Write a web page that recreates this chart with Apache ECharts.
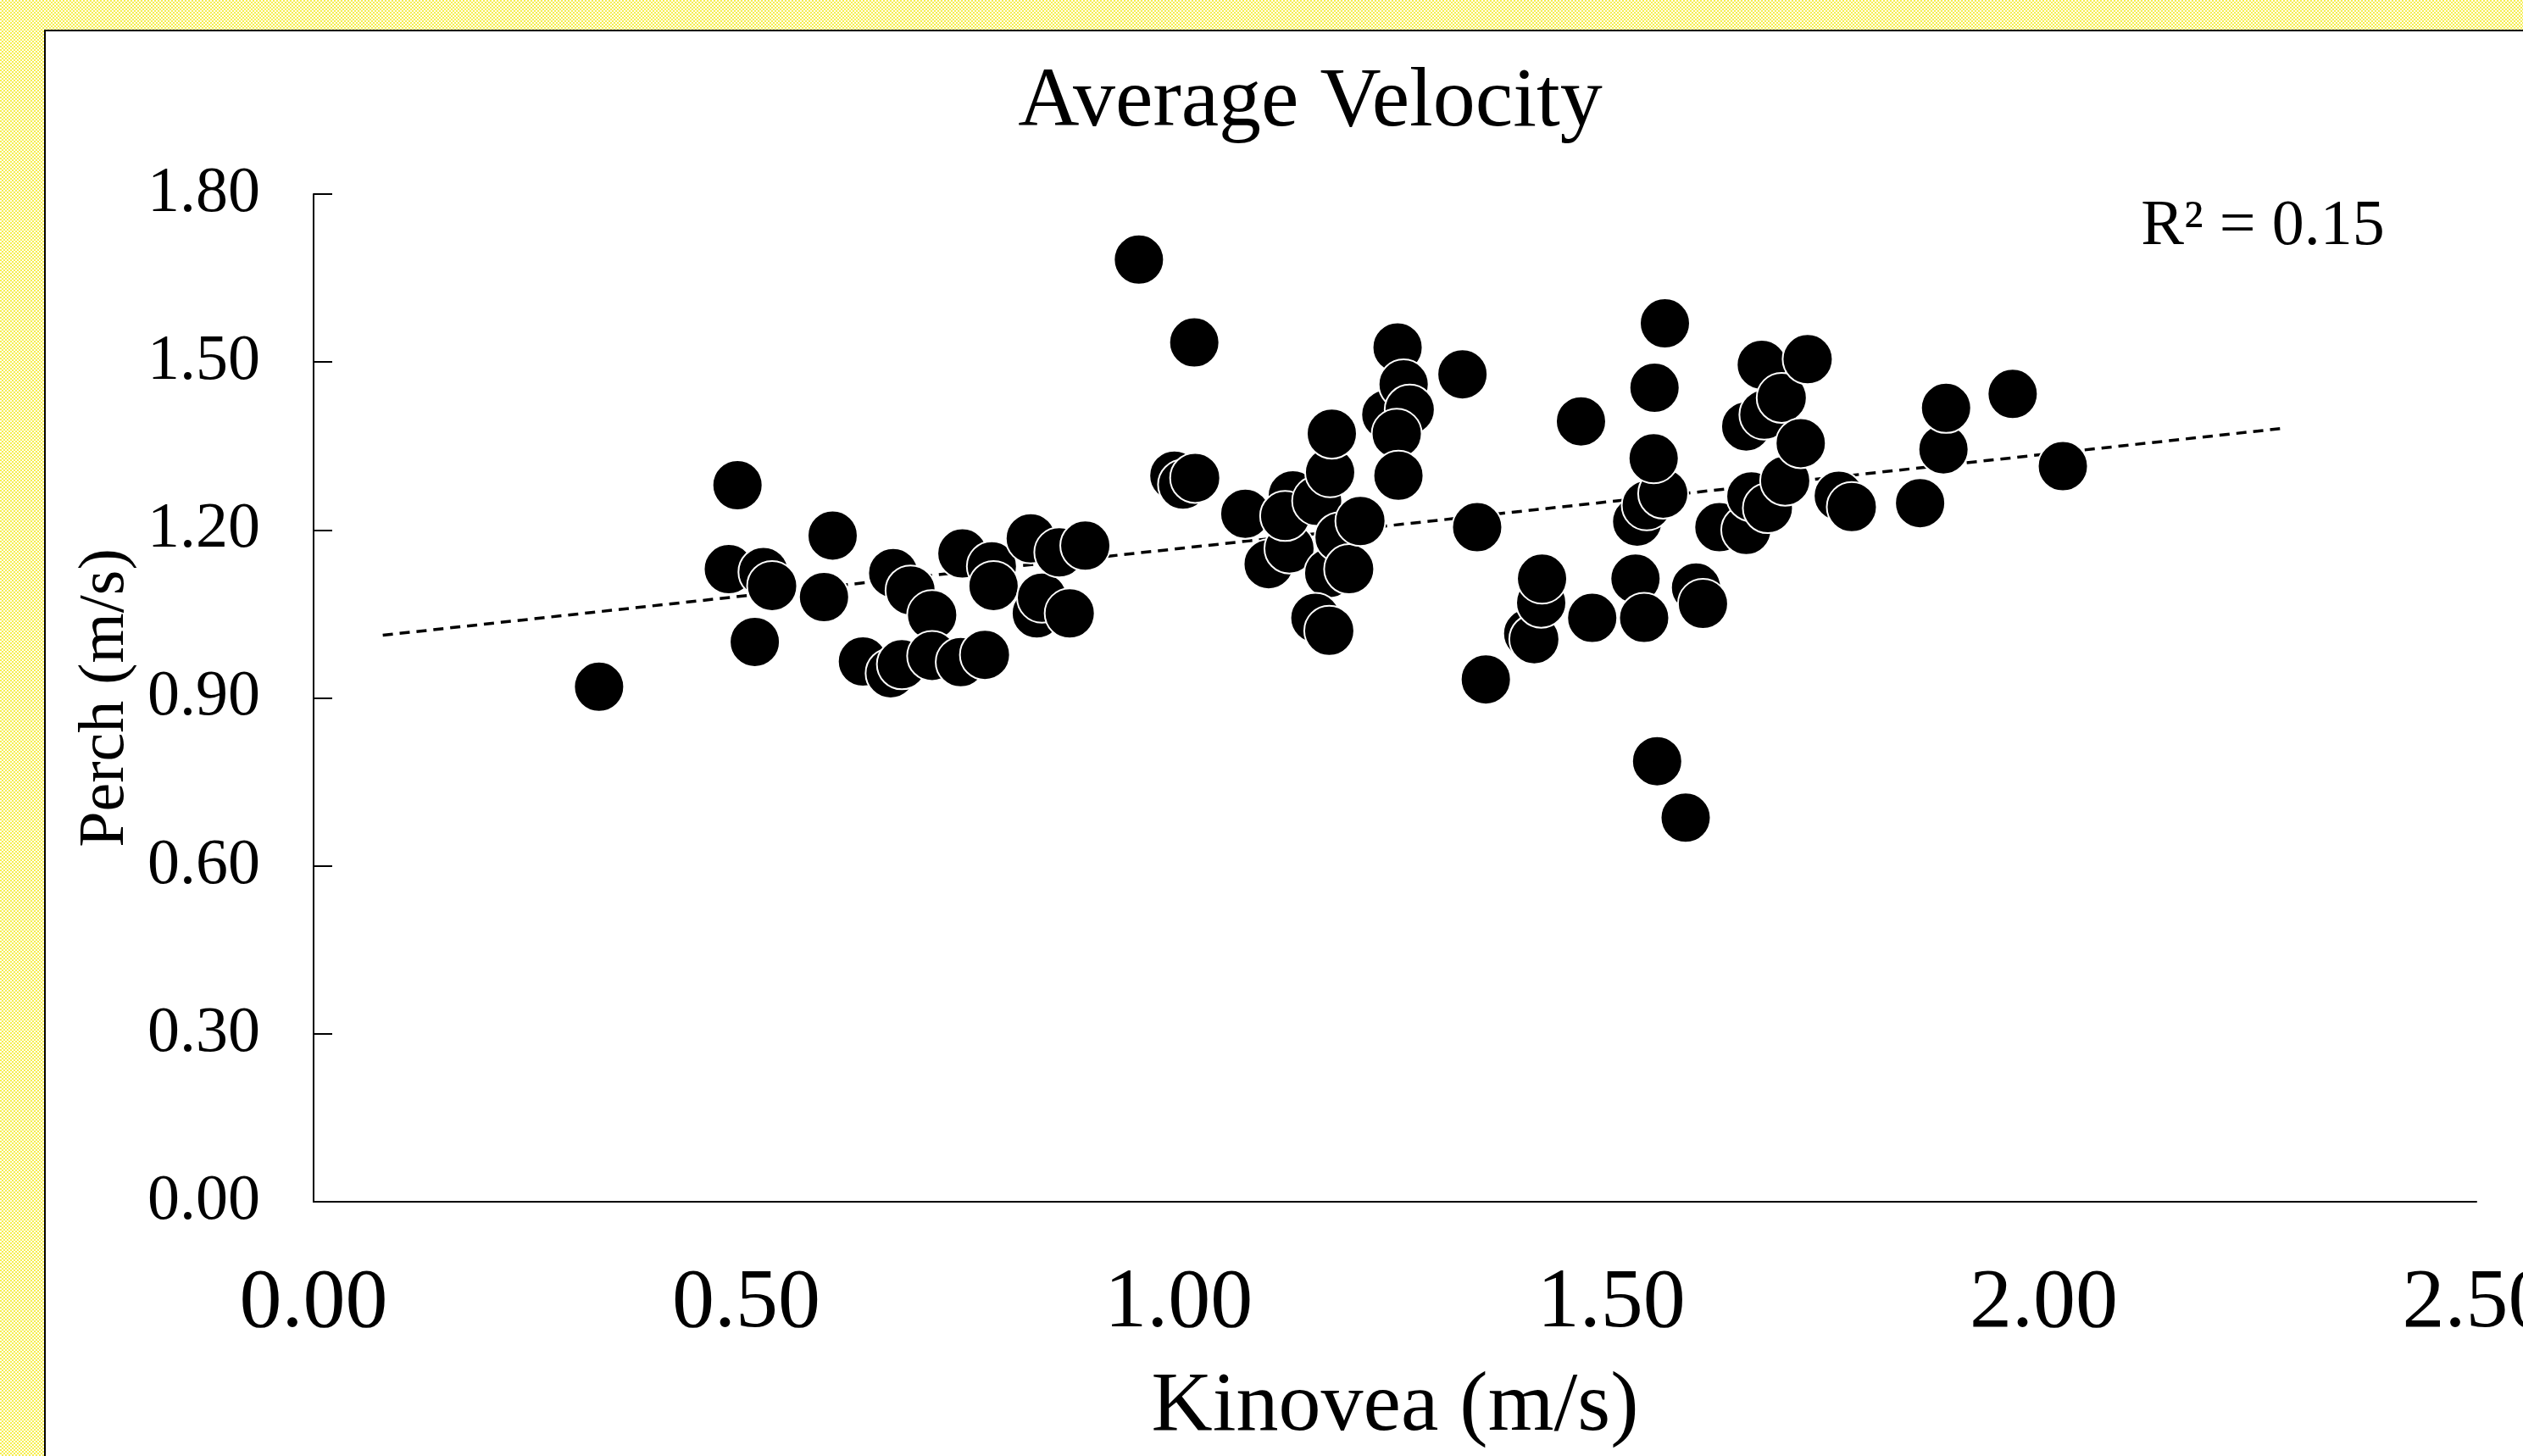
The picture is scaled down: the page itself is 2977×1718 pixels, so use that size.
<!DOCTYPE html>
<html>
<head>
<meta charset="utf-8">
<script src="https://cdn.jsdelivr.net/npm/echarts@6/dist/echarts.min.js"></script>
<style>
  html, body { margin: 0; padding: 0; width: 2977px; height: 1718px; overflow: hidden; }
  body {
    background-color: #fffde8;
    background-image: repeating-conic-gradient(#f6ee52 0 25%, #fffef0 0 50%);
    background-size: 4px 4px;
  }
  #frame {
    position: absolute; left: 52px; top: 35px; width: 3200px; height: 2000px;
    background: #ffffff; border-left: 2px solid #000; border-top: 2px solid #000;
  }
  #chart { position: absolute; left: 0; top: 0; width: 2977px; height: 1718px; }
</style>
</head>
<body>
<div id="frame"></div>
<div id="chart"></div>
<script>
// Kinovea (m/s) values (x)
const kinovea = [
  0.33, 0.48, 0.49, 0.51, 0.52, 0.53, 0.59, 0.60, 0.635, 0.67,
  0.667, 0.68, 0.69, 0.715, 0.715, 0.75, 0.748, 0.776, 0.784, 0.786,
  0.829, 0.836, 0.842, 0.862, 0.874, 0.892,
  0.954, 1.018, 0.995, 1.005, 1.019, 1.077, 1.104, 1.128, 1.132, 1.123,
  1.16, 1.175, 1.177, 1.174, 1.158, 1.174, 1.186, 1.197, 1.21, 1.24,
  1.253, 1.26, 1.267, 1.252, 1.254, 1.328, 1.345, 1.355, 1.404, 1.411,
  1.419, 1.42, 1.465, 1.478,
  1.528, 1.53, 1.538, 1.541, 1.56, 1.549, 1.55, 1.562, 1.553, 1.586,
  1.598, 1.606, 1.625, 1.656, 1.656, 1.662, 1.674, 1.677, 1.681, 1.697,
  1.701, 1.719, 1.727, 1.763, 1.778, 1.857, 1.884, 1.887, 1.964, 2.022
];
// Perch (m/s) values (y)
const perch = [
  0.92, 1.13, 1.28, 1.00, 1.125, 1.10, 1.08, 1.19, 0.965, 1.123,
  0.944, 0.96, 1.092, 1.048, 0.975, 1.158, 0.964, 0.977, 1.135, 1.10,
  1.185, 1.051, 1.079, 1.16, 1.051, 1.172,
  1.683, 1.535, 1.297, 1.281, 1.293, 1.229, 1.139, 1.167, 1.262, 1.225,
  1.252, 1.303, 1.372, 1.123, 1.043, 1.02, 1.187, 1.13, 1.216, 1.406,
  1.526, 1.46, 1.415, 1.372, 1.297, 1.478, 1.205, 0.933, 1.015, 1.005,
  1.07, 1.113, 1.394, 1.043,
  1.113, 1.215, 1.043, 1.244, 1.265, 1.328, 1.454, 1.569, 0.787, 0.686,
  1.097, 1.068, 1.205, 1.385, 1.200, 1.26, 1.495, 1.406, 1.239, 1.436,
  1.288, 1.355, 1.505, 1.261, 1.241, 1.248, 1.344, 1.418, 1.443, 1.314
];
// Linear trendline end points
const trendX = [0.08, 2.273];
const trendY = [1.012, 1.381];
// Axis ticks
const xTicks = [0.00, 0.50, 1.00, 1.50, 2.00, 2.50];
const yTicks = [0.00, 0.30, 0.60, 0.90, 1.20, 1.50, 1.80];

const titleText = 'Average Velocity';
const r2Text = 'R² = 0.15';
const FONT = "'Liberation Serif', 'Times New Roman', serif";

const points = kinovea.map((x, i) => [x, perch[i]]);
const trend = trendX.map((x, i) => [x, trendY[i]]);

// measure title width to center it at the reference position
const mc = document.createElement('canvas').getContext('2d');
mc.font = '100px ' + FONT;
const titleW = mc.measureText(titleText).width;

const chart = echarts.init(document.getElementById('chart'), null, { renderer: 'canvas', width: 2977, height: 1718 });
chart.setOption({
  backgroundColor: 'transparent',
  animation: false,
  title: {
    text: titleText,
    left: 1546 - titleW / 2,
    top: 72,
    padding: 0,
    textStyle: { fontFamily: FONT, fontSize: 100, fontWeight: 'normal', color: '#000', lineHeight: 100 }
  },
  grid: { left: 370, right: 55, top: 229, bottom: 300, containLabel: false, outerBoundsMode: 'none' },
  xAxis: {
    type: 'value',
    min: xTicks[0], max: xTicks[xTicks.length - 1], interval: 0.5,
    name: 'Kinovea (m/s)', nameLocation: 'middle', nameGap: 243,
    nameTextStyle: { fontFamily: FONT, fontSize: 100, color: '#000', verticalAlign: 'middle' },
    axisLine: { show: true, lineStyle: { color: '#000', width: 2 } },
    axisTick: { show: false },
    splitLine: { show: false },
    axisLabel: {
      margin: 71, fontFamily: FONT, fontSize: 100, color: '#000',
      showMinLabel: true, showMaxLabel: true, hideOverlap: false,
      formatter: v => v.toFixed(2)
    }
  },
  yAxis: {
    type: 'value',
    min: yTicks[0], max: yTicks[yTicks.length - 1], interval: 0.3,
    name: 'Perch (m/s)', nameLocation: 'middle', nameGap: 212,
    nameTextStyle: { fontFamily: FONT, fontSize: 76, color: '#000', verticalAlign: 'middle' },
    axisLine: { show: true, lineStyle: { color: '#000', width: 2 } },
    axisTick: { show: true, inside: true, length: 22, lineStyle: { color: '#000', width: 2 } },
    splitLine: { show: false },
    axisLabel: {
      margin: 63, fontFamily: FONT, fontSize: 76, color: '#000',
      formatter: v => v.toFixed(2)
    }
  },
  graphic: [
    {
      type: 'text', x: 2670, y: 268, z: 100,
      style: { text: r2Text, font: '76px ' + FONT, fill: '#000', textAlign: 'center', textVerticalAlign: 'middle' }
    }
  ],
  series: [
    {
      type: 'line', data: trend, symbol: 'none', z: 1, silent: true,
      lineStyle: { color: '#000', width: 3.5, type: [12, 8] }
    },
    {
      type: 'scatter', data: points, symbol: 'circle', symbolSize: 59, z: 2,
      itemStyle: { color: '#000', borderColor: '#fff', borderWidth: 2, opacity: 1 }
    }
  ]
});
</script>
</body>
</html>
